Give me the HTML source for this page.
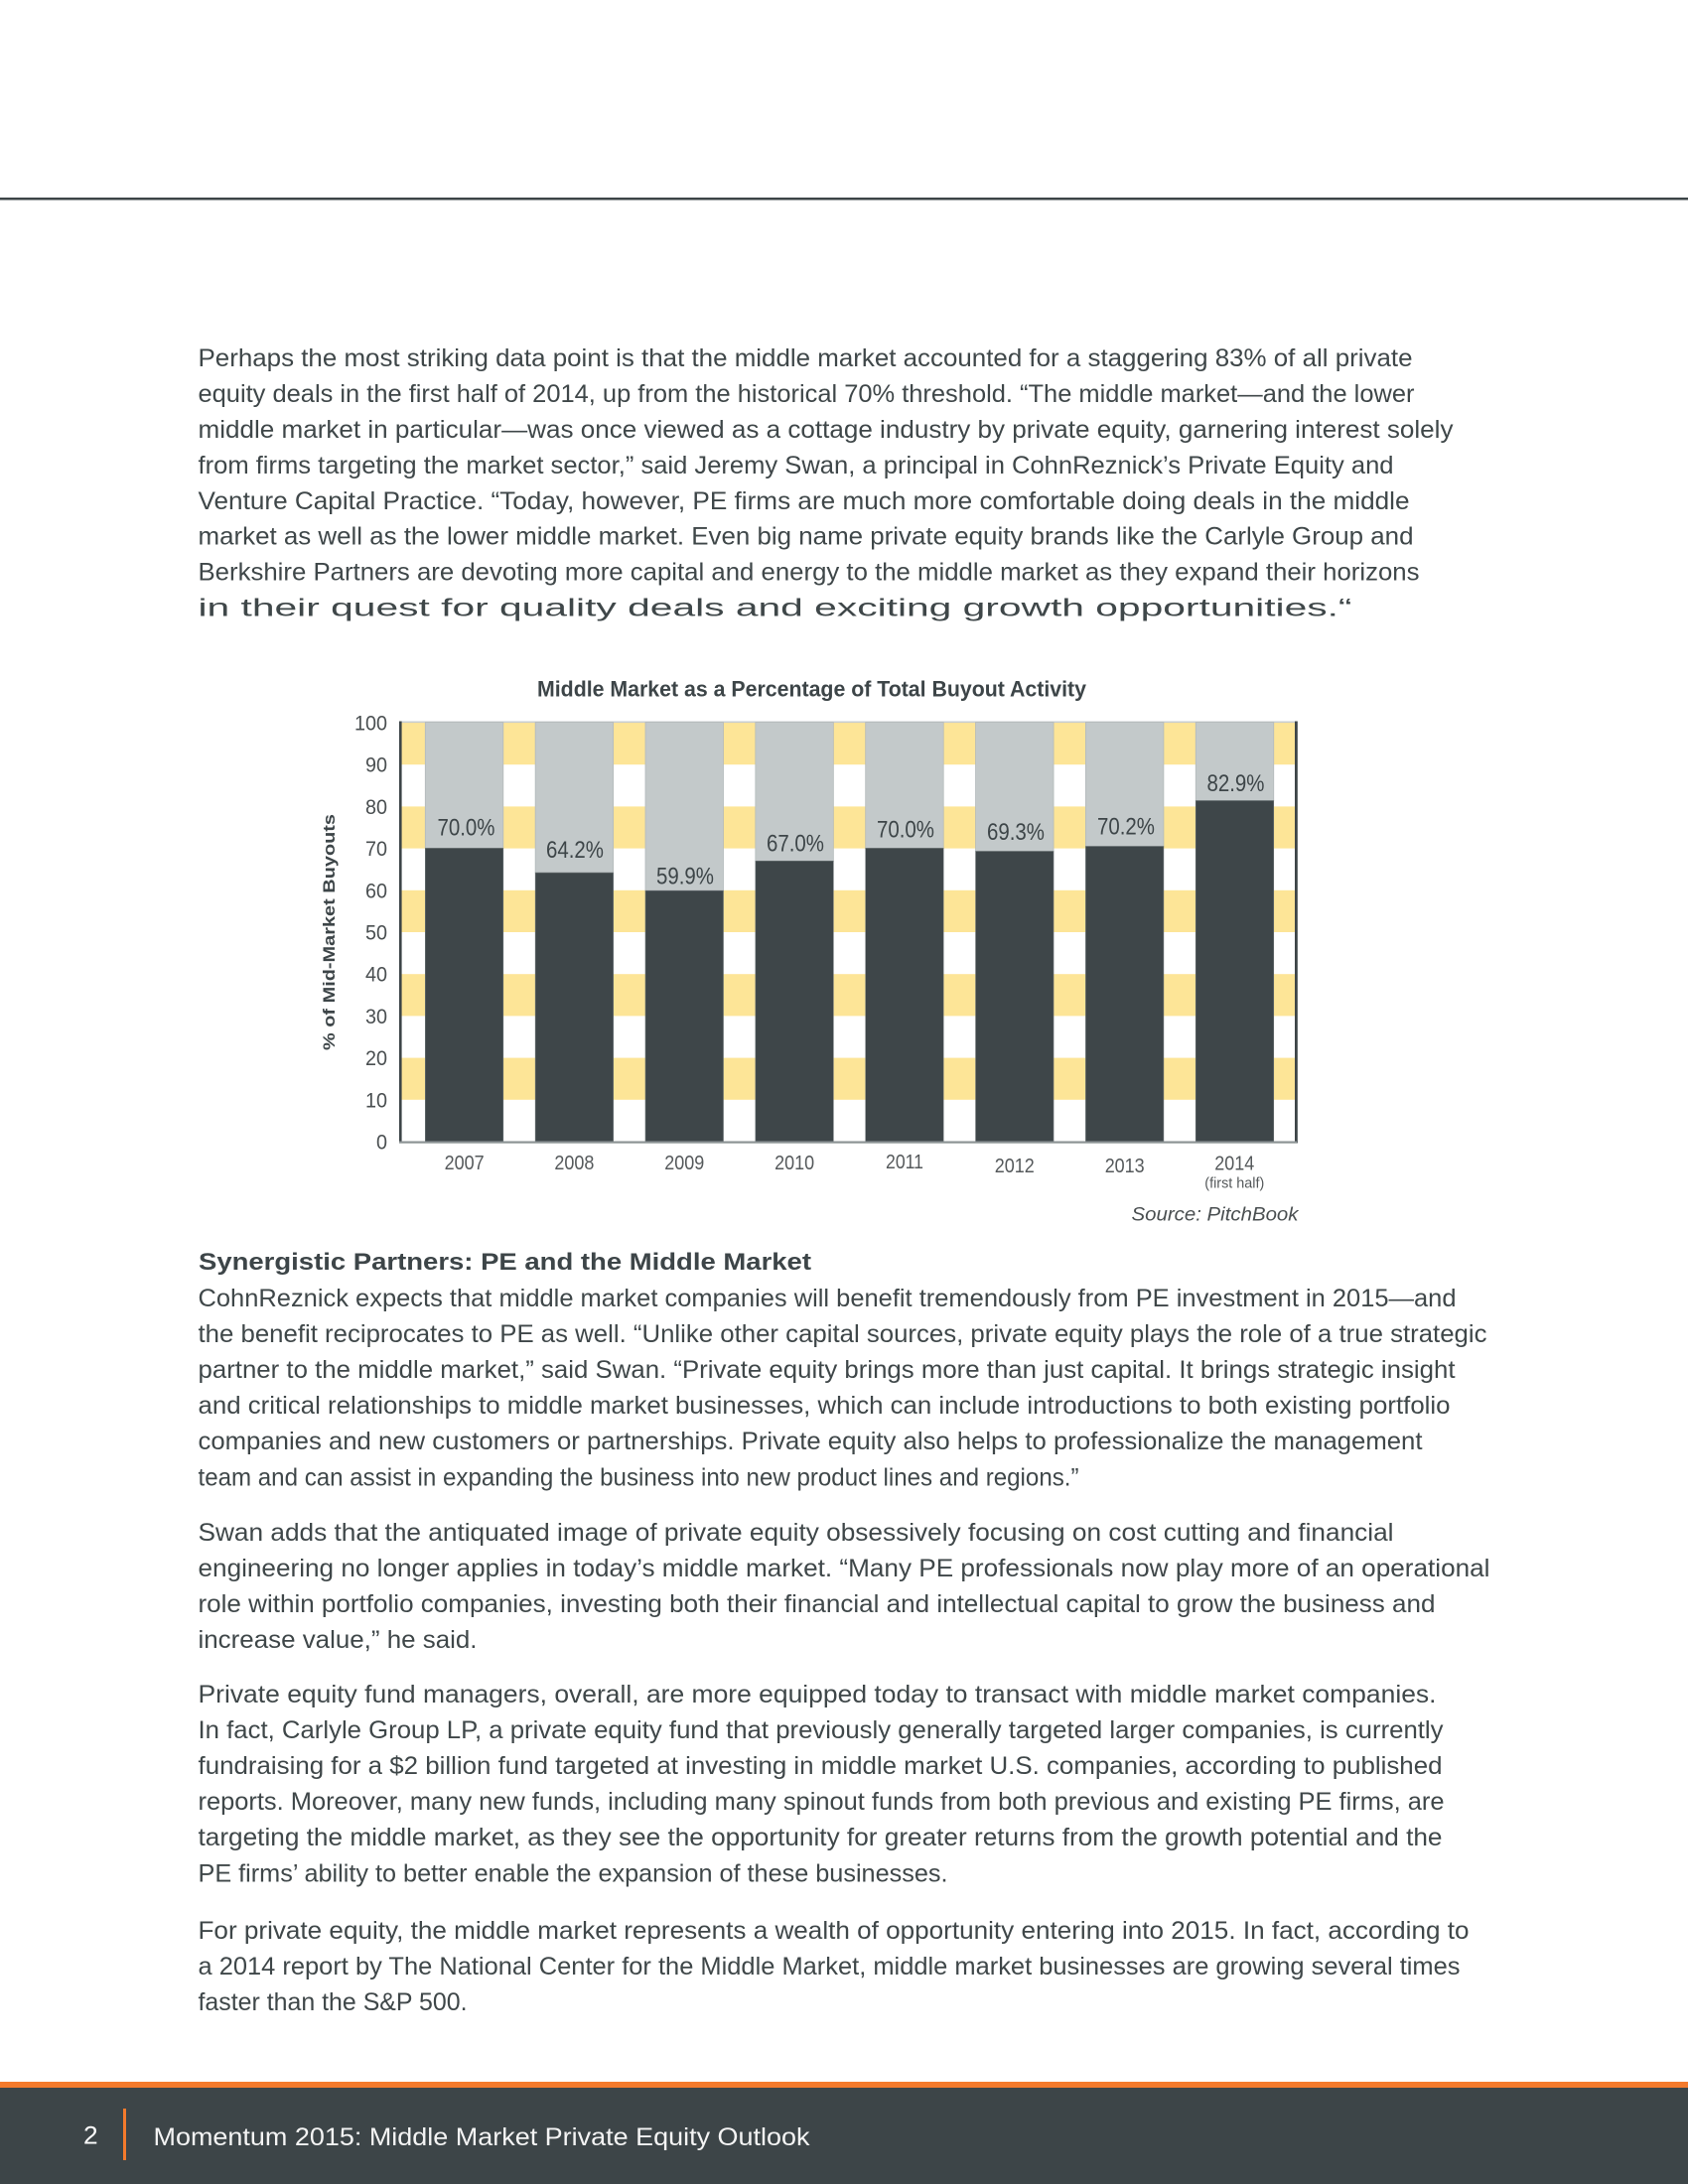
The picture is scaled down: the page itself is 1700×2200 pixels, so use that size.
<!DOCTYPE html>
<html>
<head>
<meta charset="utf-8">
<style>
  html,body{margin:0;padding:0;background:#fff;}
  svg{display:block;}
  .b{font-family:"Liberation Sans",sans-serif;font-size:25px;fill:#3f4749;}
</style>
</head>
<body>
<svg width="1700" height="2200" viewBox="0 0 1700 2200" xmlns="http://www.w3.org/2000/svg">
  <rect x="0" y="0" width="1700" height="2200" fill="#ffffff"/>
  <!-- top rule -->
  <rect x="0" y="199" width="1700" height="2.5" fill="#3d4548"/>

  <!-- intro paragraph -->
  <g class="b" lengthAdjust="spacingAndGlyphs">
    <text x="199.5" y="369" textLength="1223" lengthAdjust="spacingAndGlyphs">Perhaps the most striking data point is that the middle market accounted for a staggering 83% of all private</text>
    <text x="199.5" y="405" textLength="1225" lengthAdjust="spacingAndGlyphs">equity deals in the first half of 2014, up from the historical 70% threshold. “The middle market—and the lower</text>
    <text x="199.5" y="441" textLength="1264" lengthAdjust="spacingAndGlyphs">middle market in particular—was once viewed as a cottage industry by private equity, garnering interest solely</text>
    <text x="199.5" y="477" textLength="1204" lengthAdjust="spacingAndGlyphs">from firms targeting the market sector,” said Jeremy Swan, a principal in CohnReznick’s Private Equity and</text>
    <text x="199.5" y="513" textLength="1220" lengthAdjust="spacingAndGlyphs">Venture Capital Practice. “Today, however, PE firms are much more comfortable doing deals in the middle</text>
    <text x="199.5" y="548.5" textLength="1224" lengthAdjust="spacingAndGlyphs">market as well as the lower middle market. Even big name private equity brands like the Carlyle Group and</text>
    <text x="199.5" y="584.5" textLength="1230" lengthAdjust="spacingAndGlyphs">Berkshire Partners are devoting more capital and energy to the middle market as they expand their horizons</text>
    <text x="199.5" y="620.5" textLength="1162" lengthAdjust="spacingAndGlyphs">in their quest for quality deals and exciting growth opportunities.“</text>
  </g>

  <!-- chart title -->
  <text x="541" y="701.5" font-family="Liberation Sans, sans-serif" font-weight="bold" font-size="22" fill="#3d4548" textLength="553" lengthAdjust="spacingAndGlyphs">Middle Market as a Percentage of Total Buyout Activity</text>

  <!-- plot background bands -->
  <rect x="404" y="728" width="901" height="422" fill="#ffffff"/>
  <g fill="#fde597">
    <rect x="404" y="728" width="901" height="42.2"/>
    <rect x="404" y="812.4" width="901" height="42.2"/>
    <rect x="404" y="896.8" width="901" height="42.2"/>
    <rect x="404" y="981.2" width="901" height="42.2"/>
    <rect x="404" y="1065.6" width="901" height="42.2"/>
  </g>
  <!-- top border -->
  <rect x="403" y="726.5" width="903" height="1.6" fill="#c9cecf"/>

  <!-- bars: grey remainder -->
  <g fill="#c3c9ca" stroke="#b3babb" stroke-width="0.8">
    <rect x="428.3" y="727.5" width="78.5" height="127"/>
    <rect x="539.15" y="727.5" width="78.5" height="151.6"/>
    <rect x="650" y="727.5" width="78.5" height="169.7"/>
    <rect x="760.85" y="727.5" width="78.5" height="139.8"/>
    <rect x="871.7" y="727.5" width="78.5" height="127"/>
    <rect x="982.55" y="727.5" width="78.5" height="130"/>
    <rect x="1093.4" y="727.5" width="78.5" height="125"/>
    <rect x="1204.25" y="727.5" width="78.5" height="79"/>
  </g>
  <!-- bars: dark value -->
  <g fill="#3e4649" stroke="#6b7375" stroke-width="0.6">
    <rect x="428.3" y="854.4" width="78.5" height="295.6"/>
    <rect x="539.15" y="879.1" width="78.5" height="270.9"/>
    <rect x="650" y="897.2" width="78.5" height="252.8"/>
    <rect x="760.85" y="867.3" width="78.5" height="282.7"/>
    <rect x="871.7" y="854.4" width="78.5" height="295.6"/>
    <rect x="982.55" y="857.5" width="78.5" height="292.5"/>
    <rect x="1093.4" y="852.5" width="78.5" height="297.5"/>
    <rect x="1204.25" y="806.5" width="78.5" height="343.5"/>
  </g>

  <!-- axes -->
  <rect x="402" y="726.5" width="2.6" height="425" fill="#3d4548"/>
  <rect x="1304" y="726.5" width="2.8" height="425" fill="#3d4548"/>
  <rect x="402" y="1149.5" width="904" height="2.2" fill="#8c9395"/>

  <!-- value labels -->
  <g font-family="Liberation Sans, sans-serif" font-size="24" fill="#3d4548" text-anchor="middle">
    <text x="469.5" y="841.5" textLength="58" lengthAdjust="spacingAndGlyphs">70.0%</text>
    <text x="579" y="864" textLength="58" lengthAdjust="spacingAndGlyphs">64.2%</text>
    <text x="690" y="890.5" textLength="58" lengthAdjust="spacingAndGlyphs">59.9%</text>
    <text x="801" y="857.5" textLength="58" lengthAdjust="spacingAndGlyphs">67.0%</text>
    <text x="912" y="843.5" textLength="58" lengthAdjust="spacingAndGlyphs">70.0%</text>
    <text x="1023" y="846" textLength="58" lengthAdjust="spacingAndGlyphs">69.3%</text>
    <text x="1134" y="840.5" textLength="58" lengthAdjust="spacingAndGlyphs">70.2%</text>
    <text x="1244.5" y="797" textLength="58" lengthAdjust="spacingAndGlyphs">82.9%</text>
  </g>

  <!-- y tick labels -->
  <g font-family="Liberation Sans, sans-serif" font-size="21" fill="#4a4f51" text-anchor="end">
    <text x="390" y="735.5" textLength="33" lengthAdjust="spacingAndGlyphs">100</text>
    <text x="390" y="777.7" textLength="22" lengthAdjust="spacingAndGlyphs">90</text>
    <text x="390" y="819.9" textLength="22" lengthAdjust="spacingAndGlyphs">80</text>
    <text x="390" y="862.1" textLength="22" lengthAdjust="spacingAndGlyphs">70</text>
    <text x="390" y="904.3" textLength="22" lengthAdjust="spacingAndGlyphs">60</text>
    <text x="390" y="946.5" textLength="22" lengthAdjust="spacingAndGlyphs">50</text>
    <text x="390" y="988.7" textLength="22" lengthAdjust="spacingAndGlyphs">40</text>
    <text x="390" y="1030.9" textLength="22" lengthAdjust="spacingAndGlyphs">30</text>
    <text x="390" y="1073.1" textLength="22" lengthAdjust="spacingAndGlyphs">20</text>
    <text x="390" y="1115.3" textLength="22" lengthAdjust="spacingAndGlyphs">10</text>
    <text x="390" y="1157.5" textLength="11" lengthAdjust="spacingAndGlyphs">0</text>
  </g>

  <!-- y axis title -->
  <text transform="translate(337,939) rotate(-90)" text-anchor="middle" font-family="Liberation Sans, sans-serif" font-weight="bold" font-size="17" fill="#3d4548" textLength="238" lengthAdjust="spacingAndGlyphs">% of Mid-Market Buyouts</text>

  <!-- x labels -->
  <g font-family="Liberation Sans, sans-serif" font-size="20" fill="#55595b" text-anchor="middle">
    <text x="467.6" y="1178" textLength="40" lengthAdjust="spacingAndGlyphs">2007</text>
    <text x="578.4" y="1178" textLength="40" lengthAdjust="spacingAndGlyphs">2008</text>
    <text x="689.3" y="1178" textLength="40" lengthAdjust="spacingAndGlyphs">2009</text>
    <text x="800.1" y="1178" textLength="40" lengthAdjust="spacingAndGlyphs">2010</text>
    <text x="911" y="1177" textLength="38" lengthAdjust="spacingAndGlyphs">2011</text>
    <text x="1021.8" y="1181" textLength="40" lengthAdjust="spacingAndGlyphs">2012</text>
    <text x="1132.7" y="1181" textLength="40" lengthAdjust="spacingAndGlyphs">2013</text>
    <text x="1243.3" y="1178.5" textLength="40" lengthAdjust="spacingAndGlyphs">2014</text>
  </g>
  <text x="1243.3" y="1196.5" text-anchor="middle" font-family="Liberation Sans, sans-serif" font-size="15" fill="#55595b" textLength="60" lengthAdjust="spacingAndGlyphs">(first half)</text>
  <text x="1139.5" y="1229.5" font-family="Liberation Sans, sans-serif" font-style="italic" font-size="19" fill="#4a4f51" textLength="168" lengthAdjust="spacingAndGlyphs">Source: PitchBook</text>

  <!-- heading -->
  <text x="200" y="1279" font-family="Liberation Sans, sans-serif" font-weight="bold" font-size="24" fill="#3d4548" textLength="617" lengthAdjust="spacingAndGlyphs">Synergistic Partners: PE and the Middle Market</text>

  <!-- para 1 -->
  <g class="b">
    <text x="199.5" y="1316" textLength="1267" lengthAdjust="spacingAndGlyphs">CohnReznick expects that middle market companies will benefit tremendously from PE investment in 2015—and</text>
    <text x="199.5" y="1352" textLength="1298" lengthAdjust="spacingAndGlyphs">the benefit reciprocates to PE as well. “Unlike other capital sources, private equity plays the role of a true strategic</text>
    <text x="199.5" y="1388" textLength="1266" lengthAdjust="spacingAndGlyphs">partner to the middle market,” said Swan. “Private equity brings more than just capital. It brings strategic insight</text>
    <text x="199.5" y="1424" textLength="1261" lengthAdjust="spacingAndGlyphs">and critical relationships to middle market businesses, which can include introductions to both existing portfolio</text>
    <text x="199.5" y="1460" textLength="1233" lengthAdjust="spacingAndGlyphs">companies and new customers or partnerships. Private equity also helps to professionalize the management</text>
    <text x="199.5" y="1496.5" textLength="887" lengthAdjust="spacingAndGlyphs">team and can assist in expanding the business into new product lines and regions.”</text>
  </g>

  <!-- para 2 -->
  <g class="b">
    <text x="199.5" y="1552" textLength="1204" lengthAdjust="spacingAndGlyphs">Swan adds that the antiquated image of private equity obsessively focusing on cost cutting and financial</text>
    <text x="199.5" y="1588" textLength="1301" lengthAdjust="spacingAndGlyphs">engineering no longer applies in today’s middle market. “Many PE professionals now play more of an operational</text>
    <text x="199.5" y="1624" textLength="1246" lengthAdjust="spacingAndGlyphs">role within portfolio companies, investing both their financial and intellectual capital to grow the business and</text>
    <text x="199.5" y="1660" textLength="281" lengthAdjust="spacingAndGlyphs">increase value,” he said.</text>
  </g>

  <!-- para 3 -->
  <g class="b">
    <text x="199.5" y="1715" textLength="1247" lengthAdjust="spacingAndGlyphs">Private equity fund managers, overall, are more equipped today to transact with middle market companies.</text>
    <text x="199.5" y="1751" textLength="1254" lengthAdjust="spacingAndGlyphs">In fact, Carlyle Group LP, a private equity fund that previously generally targeted larger companies, is currently</text>
    <text x="199.5" y="1787" textLength="1253" lengthAdjust="spacingAndGlyphs">fundraising for a $2 billion fund targeted at investing in middle market U.S. companies, according to published</text>
    <text x="199.5" y="1823" textLength="1255" lengthAdjust="spacingAndGlyphs">reports. Moreover, many new funds, including many spinout funds from both previous and existing PE firms, are</text>
    <text x="199.5" y="1859" textLength="1253" lengthAdjust="spacingAndGlyphs">targeting the middle market, as they see the opportunity for greater returns from the growth potential and the</text>
    <text x="199.5" y="1895.5" textLength="755" lengthAdjust="spacingAndGlyphs">PE firms’ ability to better enable the expansion of these businesses.</text>
  </g>

  <!-- para 4 -->
  <g class="b">
    <text x="199.5" y="1953" textLength="1280" lengthAdjust="spacingAndGlyphs">For private equity, the middle market represents a wealth of opportunity entering into 2015. In fact, according to</text>
    <text x="199.5" y="1989" textLength="1271" lengthAdjust="spacingAndGlyphs">a 2014 report by The National Center for the Middle Market, middle market businesses are growing several times</text>
    <text x="199.5" y="2025" textLength="271" lengthAdjust="spacingAndGlyphs">faster than the S&amp;P 500.</text>
  </g>

  <!-- footer -->
  <rect x="0" y="2097" width="1700" height="6.5" fill="#f47a2c"/>
  <rect x="0" y="2103" width="1700" height="97" fill="#3d4548"/>
  <text x="84" y="2159.5" font-family="Liberation Sans, sans-serif" font-size="25" fill="#ffffff" textLength="14.6" lengthAdjust="spacingAndGlyphs">2</text>
  <rect x="124" y="2124" width="3" height="52" fill="#f47a2c"/>
  <text x="154.5" y="2161" font-family="Liberation Sans, sans-serif" font-size="25" fill="#f4f4f4" textLength="661" lengthAdjust="spacingAndGlyphs">Momentum 2015: Middle Market Private Equity Outlook</text>
</svg>
</body>
</html>
